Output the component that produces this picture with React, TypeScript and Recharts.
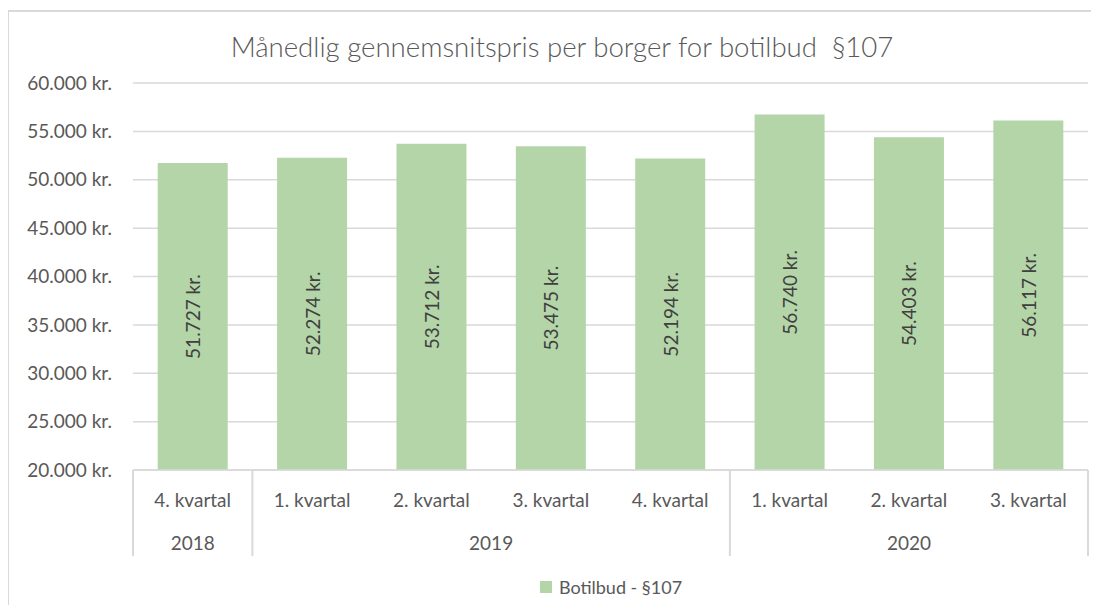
import React from 'react';
import { BarChart, Bar, XAxis, YAxis, CartesianGrid, Legend, LabelList } from 'recharts';

const quarters = ['4. kvartal', '1. kvartal', '2. kvartal', '3. kvartal', '4. kvartal', '1. kvartal', '2. kvartal', '3. kvartal'];
const years = ['2018', '2019', '2019', '2019', '2019', '2020', '2020', '2020'];
const prices = [51727, 52274, 53712, 53475, 52194, 56740, 54403, 56117];
const yTicks = [20000, 25000, 30000, 35000, 40000, 45000, 50000, 55000, 60000];

const seriesName = 'Botilbud - §107';
const title = 'Månedlig gennemsnitspris per borger for botilbud  §107';

const data = quarters.map((q, i) => ({ key: `${years[i]}-${q}`, quarter: q, year: years[i], price: prices[i] }));

const FONT = 'Lato, "Open Sans", sans-serif';
const TEXT = '#595959';
const LINE = '#d9d9d9';
const GREEN = '#b4d5a8';

const kr = (n: number) => String(n).replace(/\B(?=(\d{3})+(?!\d))/g, '.') + ' kr.';

// two-level category axis: quarter on row 1, year grouped on row 2
const CategoryTick = (props: any) => {
  const { x, y, payload } = props;
  const i = payload.index;
  const half = payload.offset;
  const isGroupStart = i === 0 || years[i] !== years[i - 1];
  const isLast = i === years.length - 1;
  let count = 0;
  if (isGroupStart) {
    let j = i;
    while (j < years.length && years[j] === years[i]) { j++; count++; }
  }
  return (
    <g>
      <text x={x} y={y + 30} dy="0.36em" textAnchor="middle" fill={TEXT} fontSize={19} fontFamily={FONT}>
        {quarters[i]}
      </text>
      {isGroupStart && (
        <>
          <line x1={x - half} x2={x - half} y1={y} y2={y + 86} stroke={LINE} strokeWidth={2} />
          <text x={x - half + count * half} y={y + 73} dy="0.36em" textAnchor="middle" fill={TEXT} fontSize={19} fontFamily={FONT}>
            {years[i]}
          </text>
        </>
      )}
      {isLast && <line x1={x + half} x2={x + half} y1={y} y2={y + 86} stroke={LINE} strokeWidth={2} />}
    </g>
  );
};

const BarLabel = (props: any) => {
  const { x, y, width, height, value } = props;
  const cx = x + width / 2;
  const cy = y + height / 2;
  return (
    <text x={cx} y={cy} transform={`rotate(-90 ${cx} ${cy})`} textAnchor="middle" dominantBaseline="central"
      fill="#404040" fontSize={19} fontFamily={FONT}>
      {kr(value)}
    </text>
  );
};

const LegendContent = () => (
  <div style={{ display: 'flex', alignItems: 'center', justifyContent: 'center', fontFamily: FONT, fontSize: 18, color: TEXT }}>
    <span style={{ display: 'inline-block', width: 12, height: 12, background: GREEN, marginRight: 7 }} />
    <span>{seriesName}</span>
  </div>
);

const App: React.FC = () => {
  return (
    <>
      <style>{'body{overflow:hidden;}'}</style>
      <div style={{ position: 'relative', marginLeft: -1, marginTop: 2, width: 1090, height: 593, borderTop: `2px solid ${LINE}`, borderLeft: `2px solid ${LINE}`, background: '#fff' }}>
        <div style={{ position: 'absolute', left: 153, width: 800, top: 21, textAlign: 'center', fontFamily: FONT, fontSize: 27.6, fontWeight: 300, lineHeight: '28px', color: TEXT, whiteSpace: 'pre' }}>
          {title}
        </div>
        <BarChart width={1090} height={593} data={data} margin={{ top: 71, right: 11, bottom: 0, left: 14 }} barCategoryGap="20.7%">
          <CartesianGrid vertical={false} stroke={LINE} strokeWidth={1.5} />
          <XAxis dataKey="key" interval={0} height={135} tickSize={0} tickMargin={0} tickLine={false}
            axisLine={{ stroke: LINE, strokeWidth: 1.5 }} tick={<CategoryTick />} />
          <YAxis domain={[20000, 60000]} ticks={yTicks} width={110} axisLine={false} tickLine={false} tickMargin={15}
            tickFormatter={kr} tick={{ fill: TEXT, fontSize: 19, fontFamily: FONT }} />
          <Legend verticalAlign="middle" layout="horizontal" content={<LegendContent />}
            wrapperStyle={{ top: 564, left: 452, width: 300 }} />
          <Bar dataKey="price" name={seriesName} fill={GREEN} isAnimationActive={false}>
            <LabelList dataKey="price" content={<BarLabel />} />
          </Bar>
        </BarChart>
      </div>
    </>
  );
};

export default App;
